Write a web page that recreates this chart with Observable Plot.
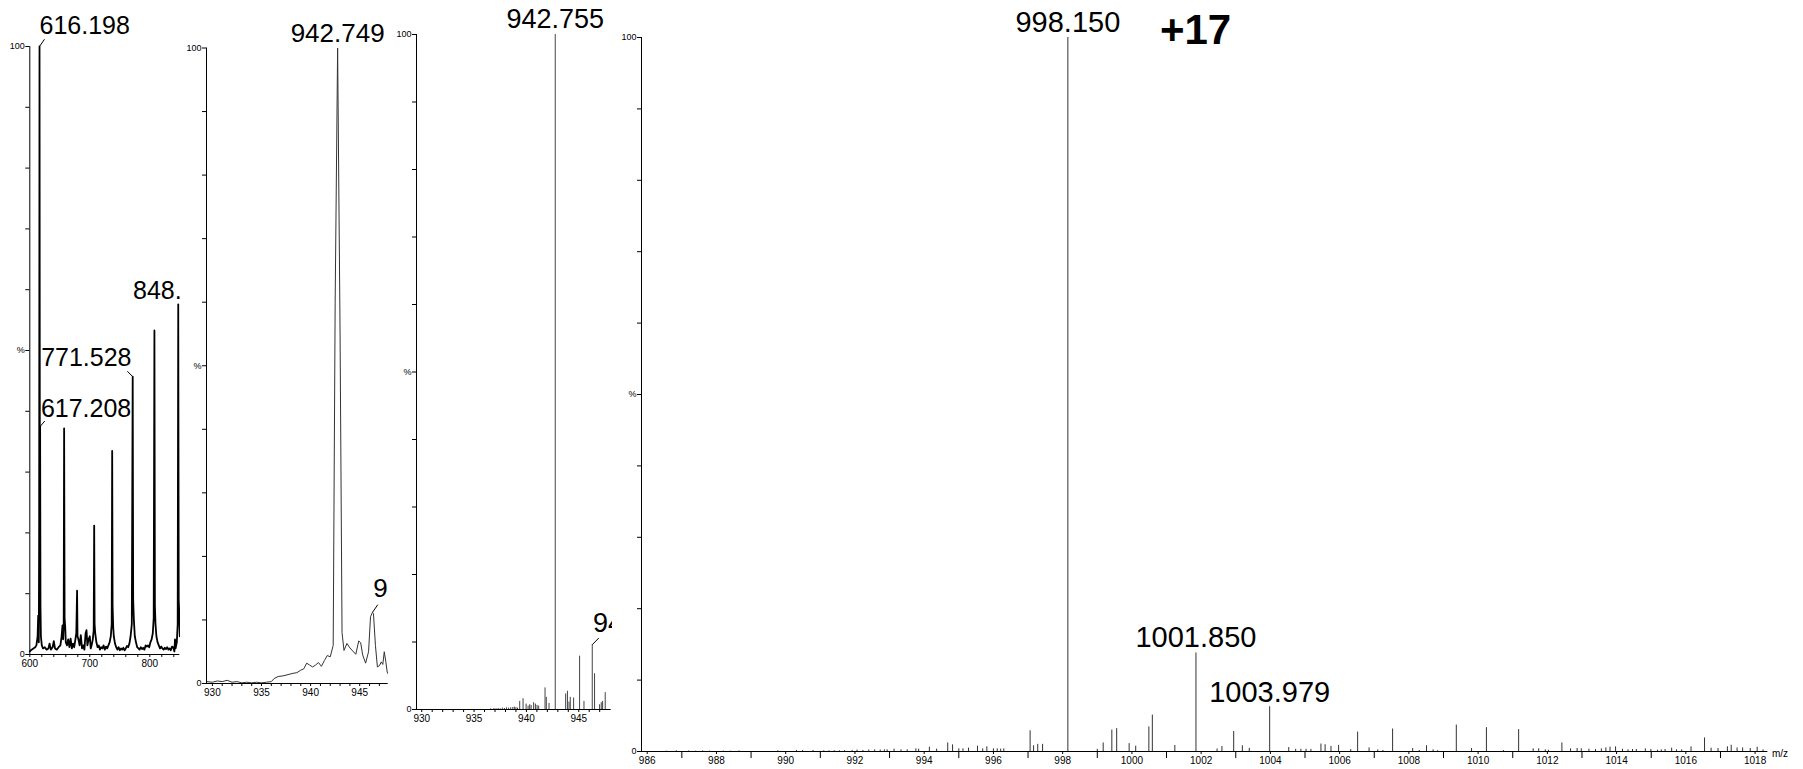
<!DOCTYPE html>
<html><head><meta charset="utf-8">
<script src="https://cdn.jsdelivr.net/npm/d3@7"></script>
<script src="https://cdn.jsdelivr.net/npm/@observablehq/plot@0.6"></script>
<style>
body{margin:0;background:#fff;}
#chart{position:relative;width:1803px;height:769px;overflow:hidden;background:#fff;}
</style></head><body><div id="chart"></div>
<script>
// ---------- Panel 1: profile spectrum 600-850 ----------
const p1Mz  = [600,603,606,609,611,613,614,615,615.6,616.2,616.8,617.2,617.8,618.5,620,622,625,628,631,633,635,638,640,642,645,648,651,653,654.5,655.5,656.5,657.2,658,659,660,662,664,666,668,670,672,674,676,677.5,678.8,679.5,681,683,685,687,689,691,693,694.5,696,698,700,701.5,703,705,706.5,707.3,708,709,711,713,715,717,719,721,723,725,727,729,731,733,735,736.5,737.3,738,739,740,742,744,746,748,750,752,754,756,758,760,762,764,766,768,770,771.5,772.3,773.3,775,777,779,781,783,785,787,789,791,793,795,797,799,801,803,805,806.5,807.7,808.5,809.5,811,813,815,817,819,821,823,825,827,829,831,833,835,837,839,841,842,843,845,846.5,847.4,848.2,849,850];
const p1Int = [0.5,0.8,1.0,1.2,1.5,3,6.4,2,20,100,20,37.5,8,3,1.5,1,1.2,0.8,1.0,1.8,0.8,1.2,2.2,1,0.8,1.2,1.5,3,4.8,2.5,5,37.2,6,4.5,2,1.5,2.5,1.2,2.6,1,1.8,1.2,2.5,3.5,10.5,3,2.5,1.5,3.2,1,1.5,0.8,3.5,4,1.5,2.5,3,1,1.5,2.5,4,21.2,5,3.5,2,1.2,1.5,0.8,1.2,1,1.5,0.8,1.3,1,1.5,2,3,5,33.5,8,4.5,3,1.8,1.2,0.8,1.2,0.7,1.0,0.8,1.1,0.7,1,1.4,1.2,1.8,3,5,45.7,9,6,3,2,1.2,1,0.8,1.2,0.9,1.1,0.8,1.5,1.3,1.5,1.2,2,2.5,3.5,6,53.3,8,5,3,2,1.5,1,1.3,1,0.8,1.1,0.9,1.2,0.8,1,0.7,1.3,1.2,0.5,2.5,1.0,2,5,57.6,9,7,3];
const p1Labels = [
  {text:"616.198", mz:616.2, pct:100,  lmz:624.5, lpct:101.2, tmz:616.2, tpct:102.1, anchor:"start"},
  {text:"617.208", mz:617.2, pct:37.5, lmz:625,   lpct:38.4,  tmz:618.5, tpct:39.0,  anchor:"start"},
  {text:"771.528", mz:771.5, pct:45.7, lmz:762.5, lpct:46.6,  tmz:769.5, tpct:47.5,  anchor:"end"},
  {text:"848.490", mz:847.4, pct:57.6, lmz:847.4, lpct:57.6,  tmz:847.4, tpct:58.5,  anchor:"middle"}
];
const p1MajorTicks = [600,700,800];
const p1MinorTicks = [620,640,660,680,720,740,760,780,820,840];

// ---------- Panel 2: profile spectrum 930-948 ----------
const p2Mz  = [929.4,930,930.5,931,931.5,932,932.5,933,933.5,934,934.5,935,935.5,936,936.3,936.7,937.2,937.7,938.2,938.6,939,939.3,939.6,939.9,940.2,940.5,940.8,941.1,941.4,941.7,942.0,942.3,942.5,942.75,943.0,943.2,943.4,943.7,944.0,944.3,944.6,944.9,945.1,945.3,945.6,945.9,946.1,946.3,946.4,946.6,946.8,947.0,947.2,947.35,947.5,947.65,947.8,947.9];
const p2Int = [0.3,0.2,0.4,0.3,0.5,0.2,0.3,0.1,0.2,0.1,0.2,0.1,0.2,0.3,0.8,1.1,1.2,1.4,1.6,1.7,2.1,2.3,3.2,2.9,2.6,2.9,3.3,2.7,3.6,4.4,4.2,6,60,100,55,8,5.2,6.3,5.6,5.1,4.6,6.7,6.4,4.5,3.2,5,10.5,11.2,11.0,6,2.6,2.8,3.4,3,5.0,3.5,1.8,1.5];
const p2Labels = [
  {text:"942.749", mz:942.75, pct:100, lmz:942.75, lpct:100, tmz:942.75, tpct:100, anchor:"middle", dy:-6},
  {text:"946.329", mz:946.3, pct:11.2, lmz:946.84, lpct:12.4, tmz:946.37, tpct:13.6, anchor:"start", dy:0}
];
const p23MajorTicks = [930,935,940,945];
const p23MinorTicks = [931,932,933,934,936,937,938,939,941,942,943,944,946,947];

// ---------- Panel 3: centroid spectrum 930-948 ----------
const p3Mz  = [936.6,936.9,937.1,937.3,937.5,937.7,937.9,938.1,938.3,938.5,938.7,938.85,939.0,939.15,939.36,939.68,939.97,940.16,940.31,940.45,940.69,940.86,941.02,941.17,941.78,941.9,942.16,942.755,943.75,943.92,944.07,944.19,944.51,945.08,945.5,946.29,946.51,946.99,947.15,947.28,947.53];
const p3Int = [0.1,0.15,0.1,0.15,0.1,0.2,0.15,0.25,0.2,0.25,0.3,0.35,0.3,0.2,1.2,1.6,0.8,0.5,0.7,0.6,1.0,0.8,0.6,0.5,3.2,1.8,0.9,100,2.3,2.7,1.1,1.8,1.7,7.9,1.2,9.6,5.3,0.7,1.0,1.2,2.5];
const p3Labels = [
  {text:"942.755", mz:942.755, pct:100, lmz:942.755, lpct:100, tmz:942.755, tpct:100, anchor:"middle", dy:-7},
  {text:"946.291", mz:946.29, pct:9.6, lmz:946.92, lpct:10.6, tmz:946.36, tpct:11.45, anchor:"start", dy:0}
];

// ---------- Panel 4: centroid spectrum 986-1018 ----------
const p4Mz  = [986.55,986.84,987.2,987.4,987.6,987.8,988.2,988.4,988.65,989.77,990.31,990.49,990.79,991.1,991.25,991.4,991.55,991.7,991.92,992.06,992.23,992.40,992.57,992.73,992.85,992.93,993.13,993.33,993.51,993.76,993.84,994.15,994.36,994.68,994.82,995.0,995.12,995.28,995.54,995.69,995.81,996.0,996.11,996.21,996.30,
  997.06,997.16,997.28,997.42,998.15,999.0,999.17,999.42,999.56,999.92,1000.11,1000.49,1000.59,1001.24,1001.85,1002.46,1002.6,1002.94,1003.19,1003.39,1003.979,
  1004.53,1004.73,1004.88,1005.03,1005.17,1005.46,1005.58,1005.75,1005.97,1006.32,1006.52,1006.85,1007.1,1007.25,1007.53,1008.11,1008.3,1008.51,1008.7,1008.83,1009.37,1009.81,1010.24,1010.73,1011.17,1011.59,1011.75,1011.94,1012.03,1012.42,1012.67,1012.86,1012.98,1013.2,1013.39,1013.56,1013.69,1013.81,1013.97,1014.17,1014.33,1014.46,1014.57,1014.83,1014.99,1015.18,1015.29,1015.4,1015.59,1015.73,1015.88,1016.15,1016.54,1016.73,1016.93,1017.2,1017.31,1017.48,1017.64,1017.86,1018.06,1018.23];
const p4Int = [0.05,0.1,0.08,0.05,0.08,0.05,0.06,0.05,0.08,0.1,0.15,0.15,0.15,0.1,0.1,0.12,0.1,0.12,0.15,0.2,0.15,0.2,0.23,0.2,0.23,0.23,0.33,0.23,0.23,0.37,0.33,0.6,0.33,1.2,0.93,0.37,0.37,0.47,0.75,0.37,0.65,0.37,0.37,0.33,0.37,
  2.9,0.8,1.0,1.0,100,0.3,1.2,3.0,3.2,1.1,0.75,3.45,5.1,0.85,13.8,0.35,0.7,2.8,0.8,0.45,6.26,
  0.55,0.3,0.3,0.3,0.3,1.05,0.95,0.72,0.86,0.27,2.72,0.5,0.22,0.15,3.15,0.42,0.14,0.8,0.23,0.1,3.7,0.42,3.34,0.14,3.06,0.37,0.37,0.23,0.18,1.2,0.37,0.42,0.37,0.32,0.28,0.37,0.5,0.6,0.65,0.32,0.23,0.28,0.28,0.37,0.28,0.18,0.23,0.28,0.46,0.23,0.23,0.65,1.9,0.46,0.42,0.65,0.88,0.5,0.5,0.42,0.6,0.23];
const p4Labels = [
  {text:"998.150",  mz:998.15,   pct:100,  dy:-6},
  {text:"1001.850", mz:1001.85,  pct:13.8, dy:-6},
  {text:"1003.979", mz:1003.979, pct:6.26, dy:-5}
];
const chargeLabel = {text:"+17", mz:1001.84, pct:100};
const p4EvenTicks = [986,988,990,992,994,996,998,1000,1002,1004,1006,1008,1010,1012,1014,1016,1018];
const p4OddTicks  = [987,989,991,993,995,997,999,1001,1003,1005,1007,1009,1011,1013,1015,1017];

const yTicks = [0,10,20,30,40,50,60,70,80,90,100];
const yTickText = {100:"100", 50:"%", 0:"0"};

// ---------- helpers ----------
const FONT = "'Liberation Sans', Arial, Helvetica, sans-serif";
const chart = document.getElementById("chart");
const zipRows = (mz, v) => mz.map((m, i) => ({mz: m, pct: v[i]}));
const plain = d => String(d);

function yAxisMarks(x0) {
  return [
    Plot.ruleX([x0], {y1: 0, y2: 100, stroke: "black", strokeWidth: 1}),
    Plot.ruleY([0], {stroke: "black", strokeWidth: 1}),
    Plot.axisY({ticks: yTicks, tickSize: 4, tickPadding: 1, label: null, fontSize: 9,
      tickFormat: d => yTickText[d] ?? ""})
  ];
}

function panel({left, width, height, mL, mR, mT, mB, xDomain, marks}) {
  const svg = Plot.plot({
    width, height, marginLeft: mL, marginRight: mR, marginTop: mT, marginBottom: mB,
    x: {domain: xDomain, label: null},
    y: {domain: [0, 100], label: null},
    style: {background: "white", overflow: "hidden", fontFamily: FONT, fontSize: "9px",
      color: "black", position: "absolute", left: left + "px", top: "0px", maxWidth: "none"},
    marks
  });
  chart.appendChild(svg);
}

function labelMarks(labels, fontSize) {
  const out = [];
  for (const L of labels) {
    if (L.lmz !== undefined && (L.lmz !== L.mz || L.lpct !== L.pct)) {
      out.push(Plot.link([L], {x1: "mz", y1: "pct", x2: "lmz", y2: "lpct", stroke: "black", strokeWidth: 1}));
    }
    out.push(Plot.text([L], {x: d => d.tmz ?? d.mz, y: d => d.tpct ?? d.pct, text: "text",
      textAnchor: L.anchor ?? "middle", lineAnchor: "bottom", dy: L.dy ?? 0,
      fontSize, fill: "black"}));
  }
  return out;
}

// ---------- Panel 1 ----------
panel({
  left: 0, width: 180, height: 684, mL: 29.3, mR: 0.7, mT: 46, mB: 30, xDomain: [600, 850],
  marks: [
    Plot.line(zipRows(p1Mz, p1Int), {x: "mz", y: "pct", stroke: "black", strokeWidth: 1.8}),
    ...yAxisMarks(600),
    Plot.axisX({ticks: p1MajorTicks, tickSize: 3, tickPadding: 2, fontSize: 10, label: null, tickFormat: plain}),
    Plot.axisX({ticks: p1MinorTicks, tickSize: 3, tickFormat: () => "", label: null}),
    ...labelMarks(p1Labels, 25)
  ]
});

// ---------- Panel 2 ----------
panel({
  left: 180, width: 208, height: 710, mL: 26, mR: 0.3, mT: 47.5, mB: 27, xDomain: [929.4, 947.9],
  marks: [
    Plot.line(zipRows(p2Mz, p2Int), {x: "mz", y: "pct", stroke: "#333", strokeWidth: 1}),
    ...yAxisMarks(929.4),
    Plot.axisX({ticks: p23MajorTicks, tickSize: 3, tickPadding: 2, fontSize: 10, label: null, tickFormat: plain}),
    Plot.axisX({ticks: p23MinorTicks, tickSize: 3, tickFormat: () => "", label: null}),
    ...labelMarks(p2Labels, 26)
  ]
});

// ---------- Panel 3 ----------
panel({
  left: 388, width: 224, height: 736, mL: 28, mR: 1.3, mT: 34, mB: 27, xDomain: [929.5, 948.1],
  marks: [
    Plot.ruleX(zipRows(p3Mz, p3Int), {x: "mz", y1: 0, y2: "pct", stroke: "#444", strokeWidth: 1}),
    ...yAxisMarks(929.5),
    Plot.axisX({ticks: p23MajorTicks, tickSize: 3, tickPadding: 2, fontSize: 10, label: null, tickFormat: plain}),
    Plot.axisX({ticks: p23MinorTicks, tickSize: 3, tickFormat: () => "", label: null}),
    ...labelMarks(p3Labels, 27)
  ]
});

// ---------- Panel 4 ----------
panel({
  left: 612, width: 1191, height: 769, mL: 29, mR: 35.6, mT: 37, mB: 18, xDomain: [985.835, 1018.37],
  marks: [
    Plot.ruleX(zipRows(p4Mz, p4Int), {x: "mz", y1: 0, y2: "pct", stroke: "#333", strokeWidth: 1}),
    ...yAxisMarks(985.835),
    Plot.axisX({ticks: p4EvenTicks, tickSize: 3, tickPadding: 2, fontSize: 10, label: null, tickFormat: plain}),
    Plot.axisX({ticks: p4OddTicks, tickSize: 7, tickFormat: () => "", label: null}),
    ...labelMarks(p4Labels, 29),
    Plot.text([chargeLabel], {x: "mz", y: "pct", text: "text", lineAnchor: "bottom", dy: 6,
      fontSize: 42, fontWeight: "bold", fill: "black"}),
    Plot.text(["m/z"], {x: 1018.37, y: 0, text: d => d, textAnchor: "start", dx: 4, dy: 2,
      fontSize: 10, fill: "black"})
  ]
});
</script></body></html>
